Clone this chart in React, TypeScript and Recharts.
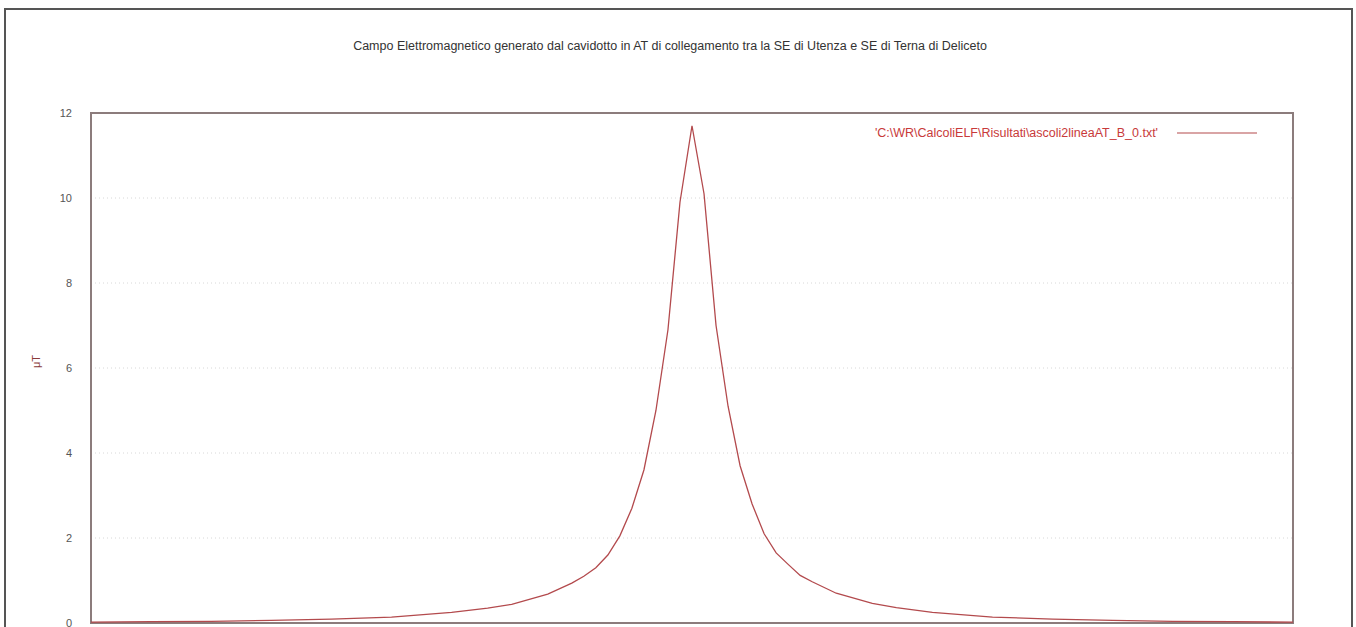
import {
  LineChart,
  Line,
  XAxis,
  YAxis,
  CartesianGrid,
  ReferenceArea,
} from "recharts";

const distances = [
  -50, -45, -40, -35, -30, -25, -20, -17, -15, -12, -10, -9, -8, -7, -6, -5, -4, -3, -2, -1, 0,
  1, 2, 3, 4, 5, 6, 7, 8, 9, 10, 12, 15, 17, 20, 25, 30, 35, 40, 45, 50,
];
const fieldValues = [
  0.02, 0.03, 0.04, 0.06, 0.09, 0.14, 0.25, 0.35, 0.44, 0.68, 0.94, 1.1, 1.3, 1.6, 2.05, 2.7, 3.6, 5.0, 6.9, 9.9, 11.7,
  10.1, 7.0, 5.1, 3.7, 2.8, 2.1, 1.65, 1.38, 1.12, 0.97, 0.7, 0.46, 0.36, 0.25, 0.14, 0.09, 0.06, 0.04, 0.03, 0.02,
];
const xTicks = [-50, -40, -30, -20, -10, 0, 10, 20, 30, 40, 50];
const yTicks = [0, 2, 4, 6, 8, 10, 12];

const chartTitle =
  "Campo Elettromagnetico generato dal cavidotto in AT di collegamento tra la SE di Utenza e SE di Terna di Deliceto";
const seriesName = "'C:\\WR\\CalcoliELF\\Risultati\\ascoli2lineaAT_B_0.txt'";

const data = distances.map((d, i) => ({ d, b: fieldValues[i] }));

const font = "'Liberation Sans', Arial, sans-serif";
const lineColor = "#b34a4d";

export default function App() {
  return (
    <div
      style={{
        position: "absolute",
        left: 0,
        top: 0,
        width: 1356,
        height: 627,
        overflow: "hidden",
        background: "#fff",
        fontFamily: font,
      }}
    >
      {/* outer frame */}
      <div
        style={{
          position: "absolute",
          left: 4,
          top: 8,
          width: 1349,
          height: 700,
          border: "2px solid #555",
          boxSizing: "border-box",
        }}
      />
      <div
        style={{
          position: "absolute",
          left: 0,
          top: 39,
          width: 1340,
          textAlign: "center",
          fontSize: 12.5,
          color: "#333",
        }}
      >
        {chartTitle}
      </div>
      <div style={{ position: "absolute", left: 0, top: 0 }}>
        <LineChart
          width={1356}
          height={660}
          data={data}
          margin={{ top: 113, right: 63, bottom: 27, left: 0 }}
        >
          <CartesianGrid stroke="#d8d8d8" strokeDasharray="1 3" />
          <XAxis
            dataKey="d"
            type="number"
            domain={[-50, 50]}
            ticks={xTicks}
            height={10}
            axisLine={false}
            tickLine={false}
            tick={false}
          />
          <YAxis
            type="number"
            domain={[0, 12]}
            ticks={yTicks}
            width={91}
            axisLine={false}
            tickLine={false}
            tickMargin={13}
            tick={{ fill: "#555", fontSize: 11, fontFamily: font }}
            label={{
              value: "μT",
              angle: -90,
              position: "insideLeft",
              offset: 36,
              style: { fill: "#8a3a3a", fontSize: 11, fontFamily: font },
            }}
          />
          <ReferenceArea
            x1={-50}
            x2={50}
            y1={0}
            y2={12}
            fill="none"
            stroke="#8c7c7c"
            strokeWidth={2}
            ifOverflow="visible"
          />
          <Line
            type="linear"
            dataKey="b"
            name={seriesName}
            stroke={lineColor}
            strokeWidth={1.3}
            dot={false}
            isAnimationActive={false}
          />
        </LineChart>
      </div>
      {/* legend */}
      <div
        style={{
          position: "absolute",
          left: 800,
          top: 126,
          display: "flex",
          alignItems: "center",
        }}
      >
        <span style={{ color: "#c83a3a", fontSize: 12.5, width: 358, textAlign: "right" }}>
          {seriesName}
        </span>
        <svg width={100} height={14} style={{ marginLeft: 19 }}>
          <line x1={0} y1={7} x2={80} y2={7} stroke={lineColor} strokeWidth={1.2} />
        </svg>
      </div>
    </div>
  );
}
